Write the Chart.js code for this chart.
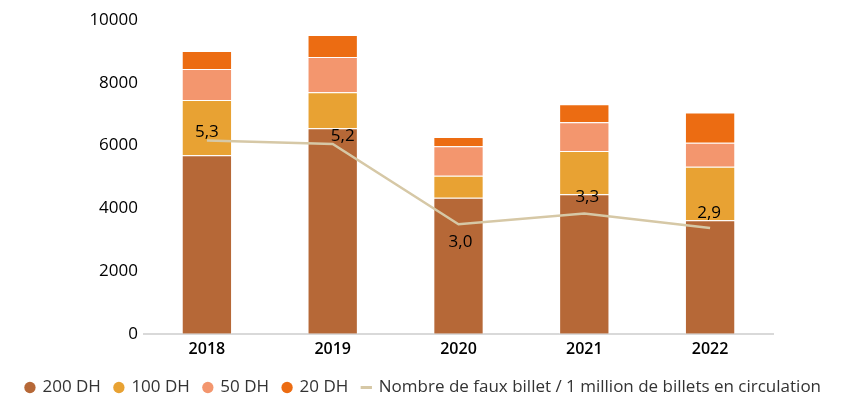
<!DOCTYPE html>
<html>
<head>
<meta charset="utf-8">
<script src="https://cdn.jsdelivr.net/npm/chart.js@4/dist/chart.umd.min.js"></script>
<style>
  html, body { margin: 0; padding: 0; background: #fff; }
  #wrap { width: 847px; height: 401px; position: relative; }
</style>
</head>
<body>
<div id="wrap"><canvas id="fauxBilletsChart"></canvas></div>
<script>
const years = ['2018', '2019', '2020', '2021', '2022'];
const dh200 = [5690, 6550, 4335, 4450, 3620];
const dh100 = [1760, 1150, 700, 1375, 1705];
const dh50 = [990, 1120, 945, 915, 765];
const dh20 = [575, 700, 290, 575, 960];
const fauxParMillion = [5.3, 5.2, 3.0, 3.3, 2.9];
const yTicks = [0, 2000, 4000, 6000, 8000, 10000];

// décalage des étiquettes de la courbe (px)
const labelShift = [[0, -8], [10, -8], [2, 18], [3, -16], [-1, -15]];

const fontFamily = '"Open Sans", "DejaVu Sans", sans-serif';

const lineLabels = {
    id: 'lineLabels',
    afterDatasetsDraw(chart) {
        const meta = chart.getDatasetMeta(4);
        const ctx = chart.ctx;
        ctx.save();
        ctx.font = '17px ' + fontFamily;
        ctx.fillStyle = '#000';
        ctx.textAlign = 'center';
        ctx.textBaseline = 'middle';
        meta.data.forEach((pt, i) => {
            const txt = fauxParMillion[i].toFixed(1).replace('.', ',');
            ctx.fillText(txt, pt.x + labelShift[i][0], pt.y + labelShift[i][1]);
        });
        ctx.restore();
    }
};

const barCommon = {
    type: 'bar',
    stack: 'billets',
    yAxisID: 'y',
    borderWidth: 1,
    borderColor: 'rgba(255,255,255,0.55)',
    categoryPercentage: 1,
    barPercentage: 0.4
};

new Chart(document.getElementById('fauxBilletsChart').getContext('2d'), {
    data: {
        labels: years,
        datasets: [
            { ...barCommon, label: '200 DH', data: dh200, backgroundColor: '#b66837' },
            { ...barCommon, label: '100 DH', data: dh100, backgroundColor: '#e8a233' },
            { ...barCommon, label: '50 DH', data: dh50, backgroundColor: '#f3966e' },
            { ...barCommon, label: '20 DH', data: dh20, backgroundColor: '#ec6c12' },
            {
                type: 'line',
                label: 'Nombre de faux billet / 1 million de billets en circulation',
                data: fauxParMillion,
                yAxisID: 'y1',
                borderColor: '#d6c8a6',
                backgroundColor: '#d6c8a6',
                borderWidth: 2.5,
                pointRadius: 0,
                tension: 0,
                order: -1
            }
        ]
    },
    options: {
        responsive: true,
        maintainAspectRatio: false,
        animation: false,
        layout: { padding: { top: 20, right: 0, left: 0, bottom: -5 } },
        plugins: {
            tooltip: { enabled: false },
            legend: {
                position: 'bottom',
                labels: {
                    usePointStyle: true,
                    boxWidth: 8,
                    boxHeight: 8,
                    padding: 14,
                    color: '#333',
                    font: { family: fontFamily, size: 17 },
                    sort: (a, b) => a.datasetIndex - b.datasetIndex,
                    generateLabels(chart) {
                        return chart.data.datasets.map((ds, i) => ({
                            text: ds.label,
                            fillStyle: ds.backgroundColor,
                            strokeStyle: ds.type === 'line' ? ds.borderColor : ds.backgroundColor,
                            lineWidth: ds.type === 'line' ? 3 : 0,
                            pointStyle: ds.type === 'line' ? 'line' : 'circle',
                            fontColor: '#333',
                            hidden: false,
                            datasetIndex: i
                        }));
                    }
                }
            }
        },
        scales: {
            x: {
                stacked: true,
                grid: { display: false, drawTicks: false },
                border: { color: '#d9d9d9', width: 2 },
                ticks: {
                    color: '#000',
                    padding: 6,
                    font: { family: fontFamily, size: 16, weight: '600' }
                }
            },
            y: {
                stacked: true,
                min: 0,
                max: 10000,
                afterFit(scale) { scale.width = 144; },
                afterBuildTicks(scale) { scale.ticks = yTicks.map(v => ({ value: v })); },
                grid: { display: false, drawTicks: false },
                border: { display: false },
                ticks: {
                    color: '#000',
                    padding: 6,
                    font: { family: fontFamily, size: 17 },
                    callback: v => String(v)
                }
            },
            y1: {
                position: 'right',
                min: 0,
                max: 8.6,
                afterFit(scale) { scale.width = 74; },
                grid: { display: false, drawTicks: false },
                border: { display: false },
                ticks: { display: false }
            }
        }
    },
    plugins: [lineLabels]
});
</script>
</body>
</html>
